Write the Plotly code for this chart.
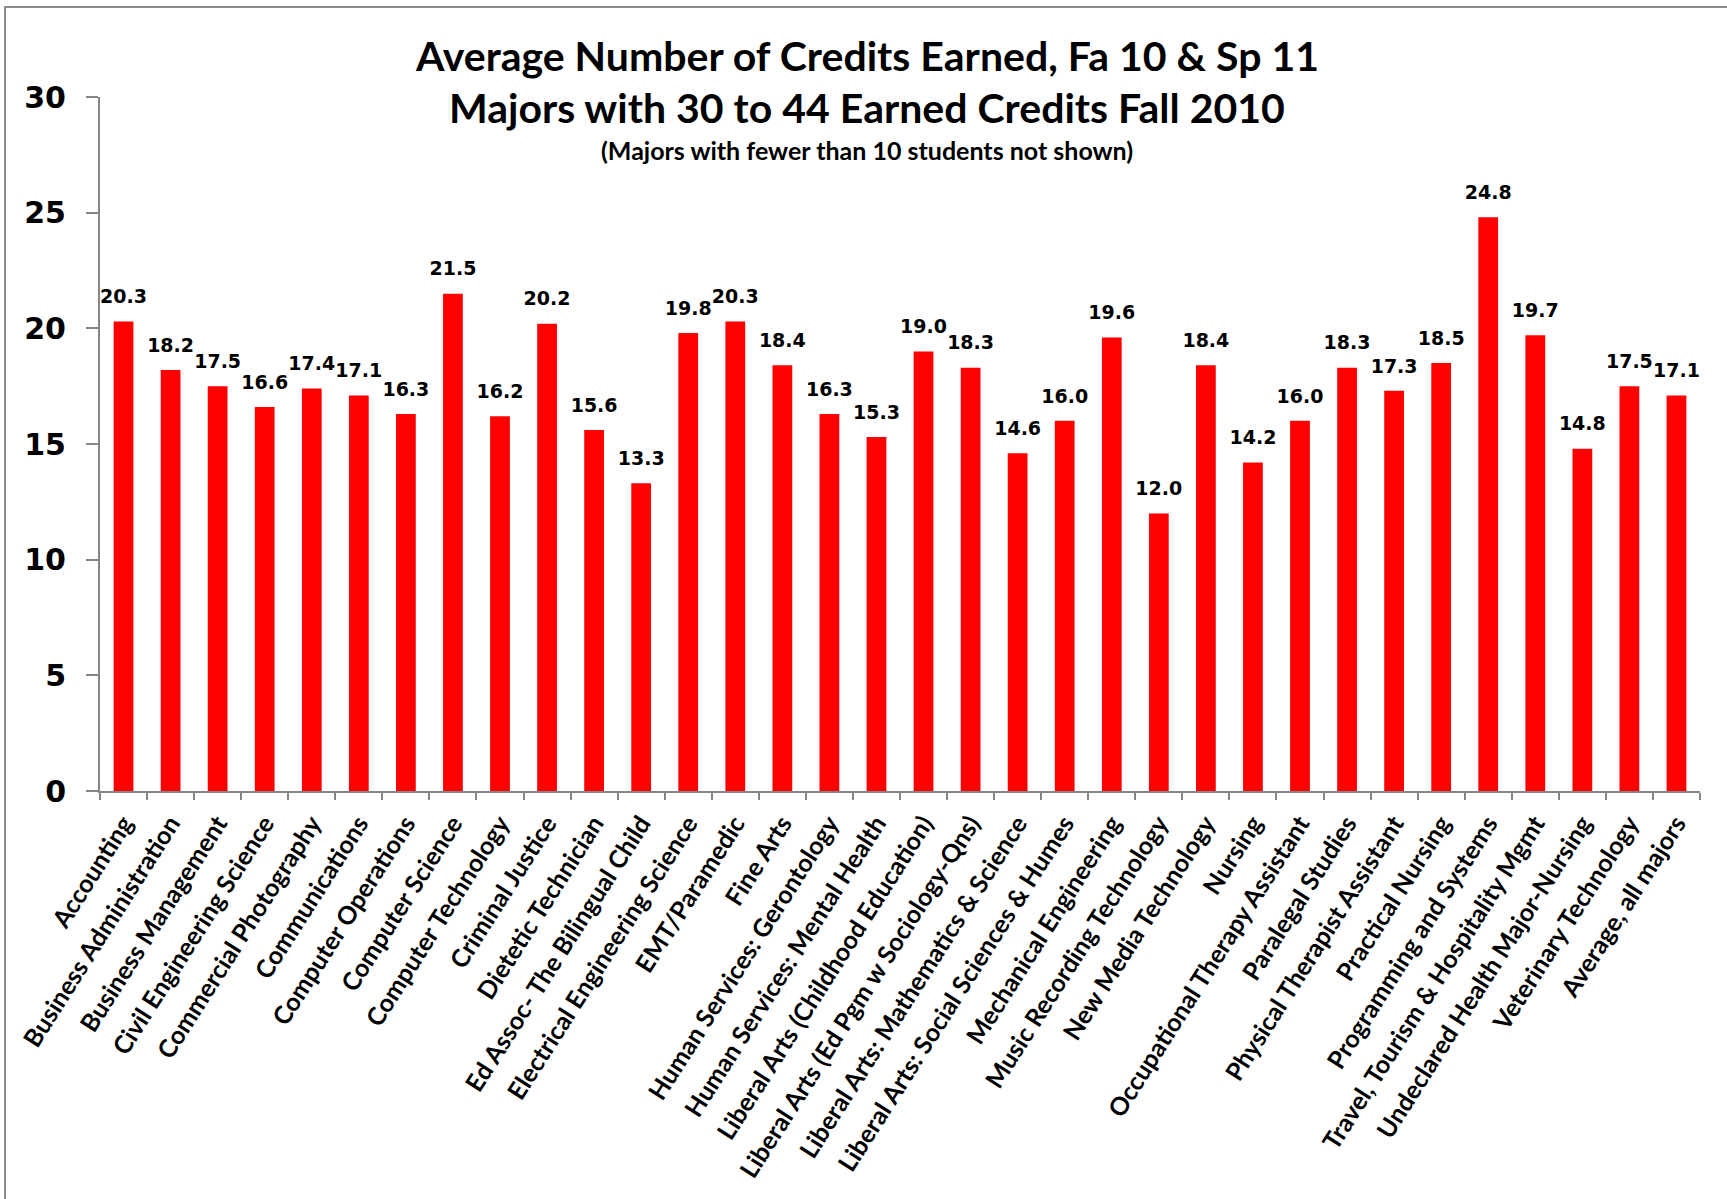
import plotly.graph_objects as go

majors = [
    "Accounting", "Business Administration", "Business Management",
    "Civil Engineering Science", "Commercial Photography", "Communications",
    "Computer Operations", "Computer Science", "Computer Technology",
    "Criminal Justice", "Dietetic Technician", "Ed Assoc- The Bilingual Child",
    "Electrical Engineering Science", "EMT/Paramedic", "Fine Arts",
    "Human Services: Gerontology", "Human Services: Mental Health",
    "Liberal Arts (Childhood Education)", "Liberal Arts (Ed Pgm w Sociology-Qns)",
    "Liberal Arts: Mathematics & Science", "Liberal Arts: Social Sciences & Humes",
    "Mechanical Engineering", "Music Recording Technology", "New Media Technology",
    "Nursing", "Occupational Therapy Assistant", "Paralegal Studies",
    "Physical Therapist Assistant", "Practical Nursing", "Programming and Systems",
    "Travel, Tourism & Hospitality Mgmt", "Undeclared Health Major-Nursing",
    "Veterinary Technology", "Average, all majors",
]
credits = [
    20.3, 18.2, 17.5, 16.6, 17.4, 17.1, 16.3, 21.5, 16.2, 20.2, 15.6, 13.3,
    19.8, 20.3, 18.4, 16.3, 15.3, 19.0, 18.3, 14.6, 16.0, 19.6, 12.0, 18.4,
    14.2, 16.0, 18.3, 17.3, 18.5, 24.8, 19.7, 14.8, 17.5, 17.1,
]
y_ticks = [0, 5, 10, 15, 20, 25, 30]

W, H = 1727, 1199
L, R, T, B = 100, 27, 97, 408
pw, ph = W - L - R, H - T - B

def px_x(x):
    return (x - L) / pw

def px_y(y):
    return 1 - (y - T) / ph

fig = go.Figure()
fig.add_trace(go.Bar(
    x=majors, y=credits, marker=dict(color="#FF0000", line=dict(width=0)),
    hoverinfo="x+y",
))
fig.add_trace(go.Scatter(
    x=majors, y=credits, mode="markers+text",
    text=[f"{v:.1f}" for v in credits], textposition="top center",
    marker=dict(size=20, opacity=0),
    textfont=dict(family="DejaVu Sans", size=19, color="black", weight="bold"),
    hoverinfo="skip", cliponaxis=False,
))

gray = "#868686"
fig.update_layout(
    width=W, height=H,
    margin=dict(l=L, r=R, t=T, b=B, pad=0),
    paper_bgcolor="white", plot_bgcolor="white",
    showlegend=False, bargap=0.58,
    xaxis=dict(
        type="category", range=[-0.5, len(majors) - 0.5], autorange=False,
        tickson="boundaries", ticks="outside", ticklen=7,
        tickcolor=gray, tickwidth=2, showline=True, linecolor=gray, linewidth=2,
        tickangle=-57.5, showgrid=False, ticklabelstandoff=6,
        tickfont=dict(family="Lato", size=25, color="black", weight="bold"),
    ),
    yaxis=dict(
        range=[0, 30], tickvals=y_ticks, ticks="outside", ticklen=12,
        tickcolor=gray, tickwidth=2, showline=True, linecolor=gray, linewidth=2,
        showgrid=False, zeroline=False, ticklabelstandoff=14,
        tickfont=dict(family="DejaVu Sans", size=30, color="black", weight="bold"),
    ),
    shapes=[dict(
        type="rect", xref="paper", yref="paper",
        x0=px_x(5), x1=px_x(W + 20), y0=px_y(H + 20), y1=px_y(7),
        line=dict(color="#8c8c8c", width=2), fillcolor="rgba(0,0,0,0)", layer="below",
    )],
    annotations=[
        dict(text="Average Number of Credits Earned, Fa 10 & Sp 11", xref="paper", yref="paper",
             x=px_x(867), y=px_y(55), showarrow=False, xanchor="center", yanchor="middle",
             font=dict(family="Lato", size=41, color="black", weight="bold")),
        dict(text="Majors with 30 to 44 Earned Credits Fall 2010", xref="paper", yref="paper",
             x=px_x(867), y=px_y(107), showarrow=False, xanchor="center", yanchor="middle",
             font=dict(family="Lato", size=41, color="black", weight="bold")),
        dict(text="(Majors with fewer than 10 students not shown)", xref="paper", yref="paper",
             x=px_x(867), y=px_y(150), showarrow=False, xanchor="center", yanchor="middle",
             font=dict(family="Lato", size=25, color="black", weight="bold")),
    ],
)

fig.write_html("out.html", config={"displayModeBar": False},
               post_script="document.body.style.margin='0';document.body.style.overflow='hidden';")
